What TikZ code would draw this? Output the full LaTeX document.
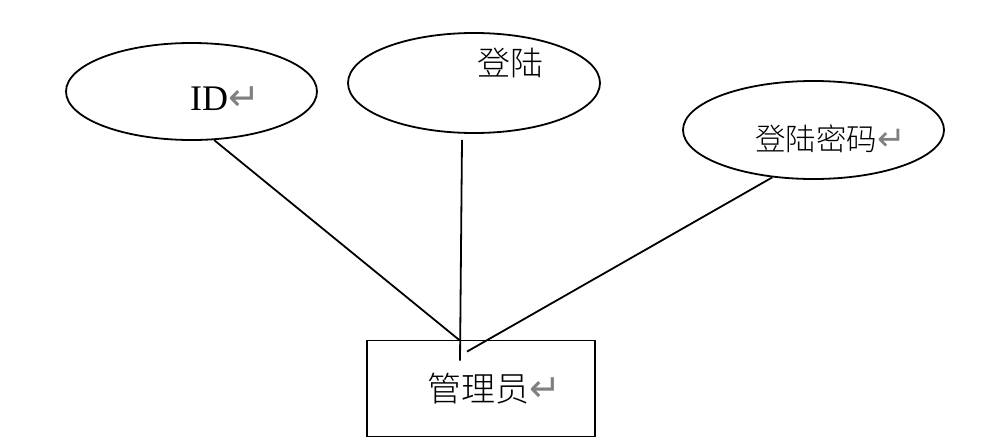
\documentclass[tikz,border=0pt]{standalone}
\usepackage{fontspec}
\setmainfont{Liberation Serif}
\newfontfamily\cjk{Noto Sans CJK SC Light}
\newfontfamily\arrowfont{DejaVu Sans}
\usetikzlibrary{shapes.geometric,calc}
\newcommand{\retmark}[1]{{\arrowfont\fontsize{#1}{#1}\selectfont\color{gray}↵}}
\begin{document}
\begin{tikzpicture}[x=1pt,y=-1pt,
  attr/.style={draw,ellipse,line width=1.8pt,inner sep=0pt},
  entity/.style={draw,rectangle,line width=1.8pt,inner sep=0pt,minimum width=228pt,minimum height=96pt},
  conn/.style={line width=1.8pt},
  label/.style={inner sep=0pt,anchor=base west}]
\useasboundingbox (0,0) rectangle (1004,442);
\node[attr,minimum width=251pt,minimum height=97pt] (e1) at (191.5,91.5) {};
\node[attr,minimum width=252pt,minimum height=100pt] (e2) at (474,83) {};
\node[attr,minimum width=261pt,minimum height=98pt] (e3) at (813.5,130) {};
\node[entity] (r) at (481,388.5) {};
\node[label] (t1) at (190,110) {\fontsize{36}{40}\selectfont ID\retmark{38}};
\node[label] (t2) at (477,75) {\cjk\fontsize{33}{36}\selectfont 登陆};
\node[label] (t3) at (755,150) {\cjk\fontsize{30.5}{34}\selectfont 登陆密码\retmark{34}};
\node[label] (t4) at (427,401) {\cjk\fontsize{34}{38}\selectfont 管理员\retmark{38}};
\draw[conn] (e1.-65) -- ($(r.north)+(-21,1)$);
\draw[conn] ($(e2.south)+(-12,6)$) -- ($(r.north)+(-21,21)$);
\draw[conn] (e3.-131) -- ($(r.north)+(-14,12)$);
\end{tikzpicture}
\end{document}
